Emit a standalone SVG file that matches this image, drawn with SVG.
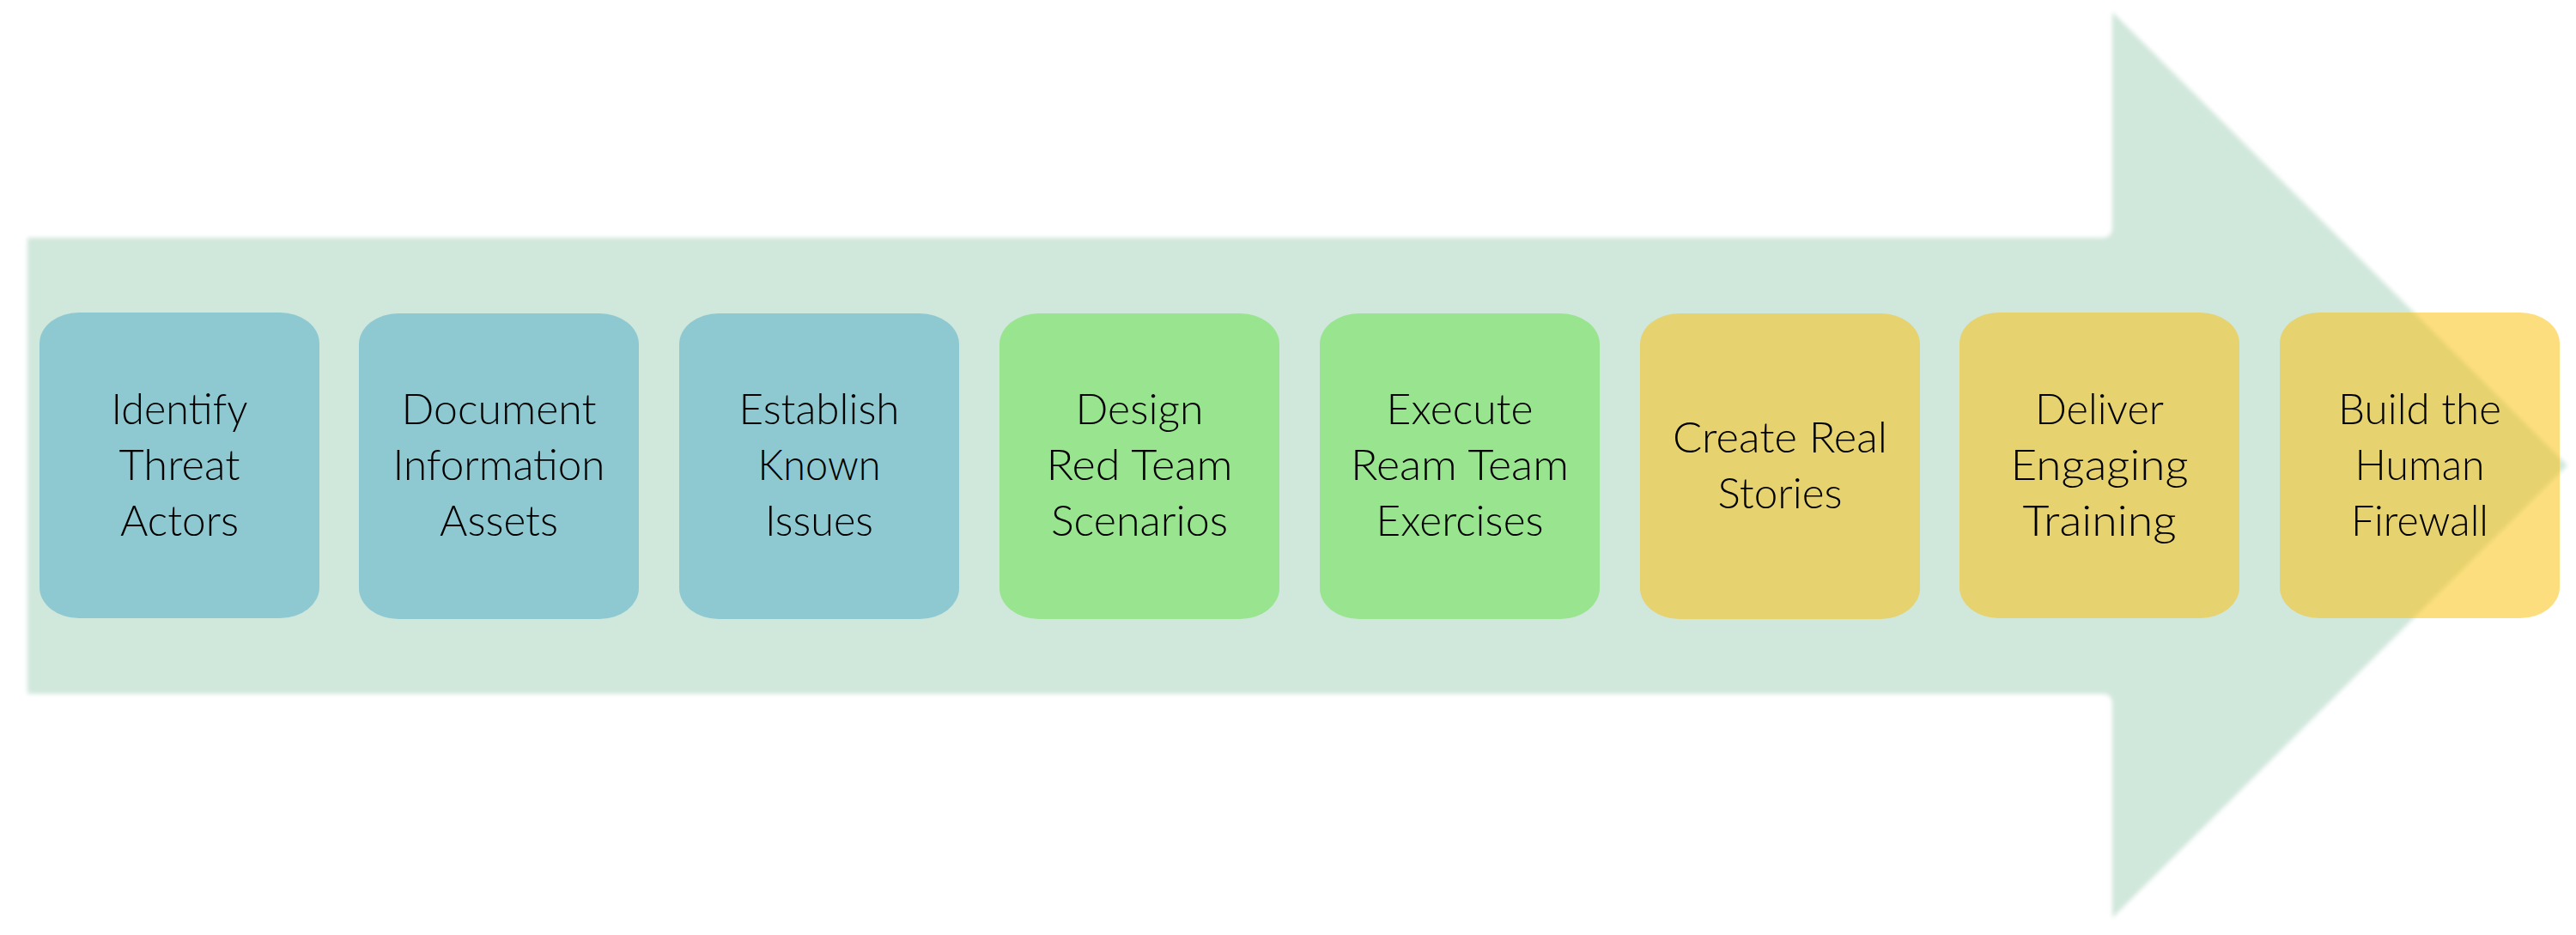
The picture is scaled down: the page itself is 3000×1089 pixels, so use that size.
<svg xmlns="http://www.w3.org/2000/svg" width="3000" height="1089" viewBox="0 0 3000 1089">
<defs>
<filter id="soft" x="-2%" y="-2%" width="104%" height="104%"><feGaussianBlur stdDeviation="2.5"/></filter>
<style>
.box{fill-opacity:0.5}
.blue{fill:#4CABC6}
.green{fill:#60E142}
.gold{fill:#FBBD00}
.lbl{font-family:Lato,"Liberation Sans",sans-serif;font-weight:300;font-size:49px;fill:#000;text-anchor:middle}
</style>
</defs>
<rect width="3000" height="1089" fill="#FFFFFF"/>
<g id="arrow-background">
<path d="M32,277 L2448,277 Q2460,277 2460,265 L2460,14 L2990,542 L2460,1069 L2460,820 Q2460,808 2448,808 L32,808 Z" fill="#D0E7DC" filter="url(#soft)"/>
</g>
<g id="connectors"/>
<g id="node1">
<rect class="box blue" x="46" y="364" width="326" height="356" rx="46" ry="36"/>
<text class="lbl" x="209" y="494" textLength="159" lengthAdjust="spacingAndGlyphs">Identify</text>
<text class="lbl" x="209" y="559" textLength="141" lengthAdjust="spacingAndGlyphs">Threat</text>
<text class="lbl" x="209" y="624" textLength="138" lengthAdjust="spacingAndGlyphs">Actors</text>
</g>
<g id="node2">
<rect class="box blue" x="418" y="365" width="326" height="356" rx="46" ry="36"/>
<text class="lbl" x="581" y="494" textLength="227" lengthAdjust="spacingAndGlyphs">Document</text>
<text class="lbl" x="581" y="559" textLength="247" lengthAdjust="spacingAndGlyphs">Information</text>
<text class="lbl" x="581" y="624" textLength="138" lengthAdjust="spacingAndGlyphs">Assets</text>
</g>
<g id="node3">
<rect class="box blue" x="791" y="365" width="326" height="356" rx="46" ry="36"/>
<text class="lbl" x="954" y="494" textLength="187" lengthAdjust="spacingAndGlyphs">Establish</text>
<text class="lbl" x="954" y="559" textLength="143" lengthAdjust="spacingAndGlyphs">Known</text>
<text class="lbl" x="954" y="624" textLength="126" lengthAdjust="spacingAndGlyphs">Issues</text>
</g>
<g id="node4">
<rect class="box green" x="1164" y="365" width="326" height="356" rx="46" ry="36"/>
<text class="lbl" x="1327" y="494" textLength="149" lengthAdjust="spacingAndGlyphs">Design</text>
<text class="lbl" x="1327" y="559" textLength="217" lengthAdjust="spacingAndGlyphs">Red Team</text>
<text class="lbl" x="1327" y="624" textLength="206" lengthAdjust="spacingAndGlyphs">Scenarios</text>
</g>
<g id="node5">
<rect class="box green" x="1537" y="365" width="326" height="356" rx="46" ry="36"/>
<text class="lbl" x="1700" y="494" textLength="171" lengthAdjust="spacingAndGlyphs">Execute</text>
<text class="lbl" x="1700" y="559" textLength="254" lengthAdjust="spacingAndGlyphs">Ream Team</text>
<text class="lbl" x="1700" y="624" textLength="195" lengthAdjust="spacingAndGlyphs">Exercises</text>
</g>
<g id="node6">
<rect class="box gold" x="1910" y="365" width="326" height="356" rx="46" ry="36"/>
<text class="lbl" x="2073" y="527" textLength="250" lengthAdjust="spacingAndGlyphs">Create Real</text>
<text class="lbl" x="2073" y="592" textLength="145" lengthAdjust="spacingAndGlyphs">Stories</text>
</g>
<g id="node7">
<rect class="box gold" x="2282" y="364" width="326" height="356" rx="46" ry="36"/>
<text class="lbl" x="2445" y="494" textLength="150" lengthAdjust="spacingAndGlyphs">Deliver</text>
<text class="lbl" x="2445" y="559" textLength="207" lengthAdjust="spacingAndGlyphs">Engaging</text>
<text class="lbl" x="2445" y="624" textLength="179" lengthAdjust="spacingAndGlyphs">Training</text>
</g>
<g id="node8">
<rect class="box gold" x="2655" y="364" width="326" height="356" rx="46" ry="36"/>
<text class="lbl" x="2818" y="494" textLength="190" lengthAdjust="spacingAndGlyphs">Build the</text>
<text class="lbl" x="2818" y="559" textLength="151" lengthAdjust="spacingAndGlyphs">Human</text>
<text class="lbl" x="2818" y="624" textLength="160" lengthAdjust="spacingAndGlyphs">Firewall</text>
</g>
</svg>
